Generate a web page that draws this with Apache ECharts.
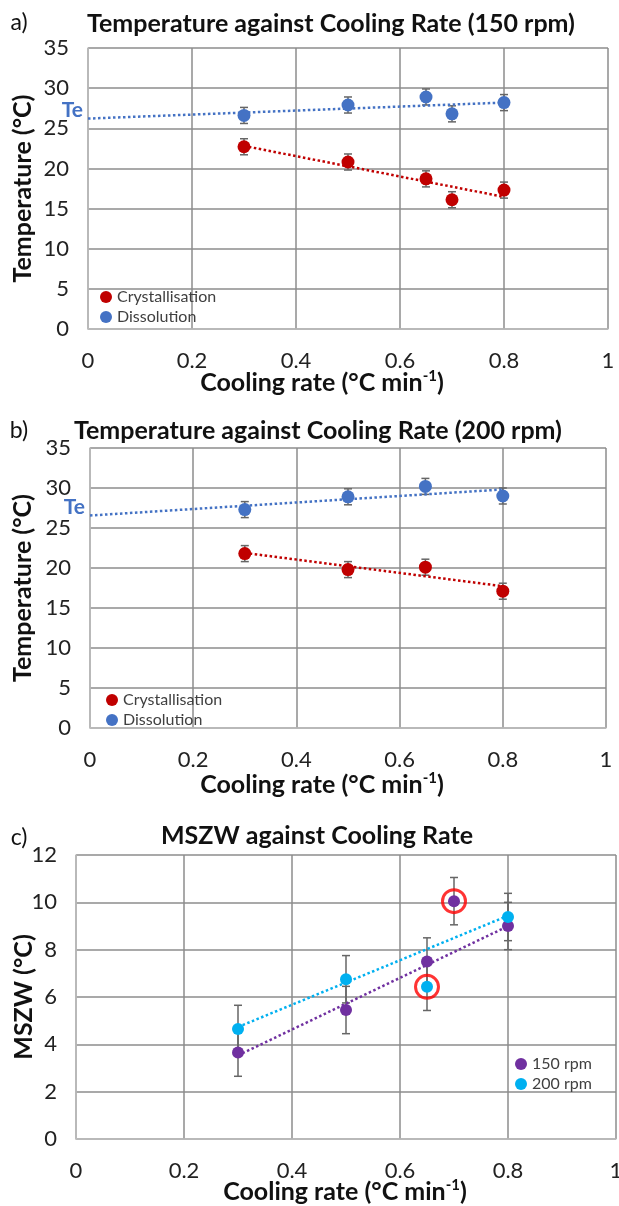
<!DOCTYPE html>
<html>
<head>
<meta charset="utf-8">
<script src="https://cdn.jsdelivr.net/npm/echarts@6/dist/echarts.min.js"></script>
<style>
    html, body { margin: 0; padding: 0; background: #fff; }
    #main { width: 619px; height: 1206px; }
</style>
</head>
<body>
<div id="main"></div>
<script>
    // cooling rates (°C/min)
    var rate150 = [0.3, 0.5, 0.65, 0.7, 0.8];
    var rate200 = [0.3, 0.5, 0.65, 0.8];

    // a) 150 rpm, temperatures (°C)
    var cryst150 = [22.7, 20.8, 18.7, 16.1, 17.3];
    var diss150 = [26.6, 27.9, 28.9, 26.8, 28.2];
    var err150 = [1, 1, 1, 1, 1];

    // b) 200 rpm
    var cryst200 = [21.8, 19.8, 20.1, 17.1];
    var diss200 = [27.3, 28.9, 30.2, 29.0];
    var err200 = [1, 1, 1, 1];

    // c) MSZW (°C)
    var mszw150 = [3.65, 5.45, 7.5, 10.05, 9.0];
    var mszw200 = [4.65, 6.75, 6.43, 9.38];
    var mszwErr150 = [1, 1, 1, 1, 1];
    var mszwErr200 = [1, 1, 1, 1];
    // circled points, left out of the trend line
    var outlier150 = [0.7];
    var outlier200 = [0.65];

    var FONT = 'Lato';
    var BLUE = '#4472C4', RED = '#C00000', PURPLE = '#7030A0', CYAN = '#00B0F0';

    function zip(xs, ys) {
        return xs.map(function (x, i) { return [x, ys[i]]; });
    }
    function zip3(xs, ys, es) {
        return xs.map(function (x, i) { return [x, ys[i], es[i]]; });
    }
    // least squares line, skipping excluded x values
    function fit(xs, ys, skip) {
        skip = skip || [];
        var px = [], py = [];
        xs.forEach(function (x, i) { if (skip.indexOf(x) < 0) { px.push(x); py.push(ys[i]); } });
        var n = px.length, mx = 0, my = 0;
        for (var i = 0; i < n; i++) { mx += px[i]; my += py[i]; }
        mx /= n; my /= n;
        var sxy = 0, sxx = 0;
        for (var j = 0; j < n; j++) { sxy += (px[j] - mx) * (py[j] - my); sxx += (px[j] - mx) * (px[j] - mx); }
        var m = sxy / sxx;
        return { m: m, b: my - m * mx };
    }
    function trendPts(f, x0, x1) {
        return [[x0, f.b + f.m * x0], [x1, f.b + f.m * x1]];
    }

    function errBars(params, api) {
        var x = api.value(0), y = api.value(1), e = api.value(2);
        var top = api.coord([x, y + e]);
        var bot = api.coord([x, y - e]);
        var st = { stroke: '#666666', lineWidth: 1.5 };
        return {
            type: 'group',
            children: [
                { type: 'line', shape: { x1: top[0], y1: top[1], x2: bot[0], y2: bot[1] }, style: st },
                { type: 'line', shape: { x1: top[0] - 4, y1: top[1], x2: top[0] + 4, y2: top[1] }, style: st },
                { type: 'line', shape: { x1: bot[0] - 4, y1: bot[1], x2: bot[0] + 4, y2: bot[1] }, style: st }
            ]
        };
    }

    function xAxisOf(i) {
        return {
            type: 'value', gridIndex: i, min: 0, max: 1, interval: 0.2,
            axisLine: { show: true, lineStyle: { color: '#bfbfbf', width: 1.5 } },
            axisTick: { show: false },
            axisLabel: { fontSize: 22, color: '#222', fontFamily: FONT, margin: 21,
                formatter: function (v) { return String(+v.toFixed(1)); } },
            splitLine: { show: true, lineStyle: { color: '#8c8c8c', width: 1.5 } }
        };
    }
    function yAxisOf(i, max, step, name, gap) {
        return {
            type: 'value', gridIndex: i, min: 0, max: max, interval: step,
            name: name, nameLocation: 'middle', nameGap: gap, nameMoveOverlap: false,
            nameTextStyle: { fontSize: 25, fontWeight: 'bold', color: '#111', fontFamily: FONT },
            axisLine: { show: true, lineStyle: { color: '#bfbfbf', width: 1.5 } },
            axisTick: { show: false },
            axisLabel: { fontSize: 22, color: '#222', fontFamily: FONT, margin: 19 },
            splitLine: { show: true, lineStyle: { color: '#8c8c8c', width: 1.5 } }
        };
    }
    function titleAt(text, cx, cy, size, weight) {
        return {
            text: text, left: cx, top: cy, padding: 0,
            textAlign: 'center', textVerticalAlign: 'middle',
            textStyle: { fontSize: size, fontWeight: weight, color: '#111', fontFamily: FONT }
        };
    }
    function xTitleAt(cx, cy) {
        return {
            text: '{n|Cooling rate (°C min}{s|-1}{n|)}', left: cx, top: cy, padding: 0,
            textAlign: 'center', textVerticalAlign: 'middle',
            textStyle: {
                rich: {
                    n: { fontSize: 25, fontWeight: 'bold', color: '#111', fontFamily: FONT, lineHeight: 28 },
                    s: { fontSize: 15, fontWeight: 'bold', color: '#111', fontFamily: FONT, lineHeight: 17, verticalAlign: 'top' }
                }
            }
        };
    }
    function legendAt(names, left, top) {
        return {
            data: names, orient: 'vertical', left: left, top: top, padding: 0,
            itemWidth: 12, itemHeight: 12, itemGap: 4, icon: 'circle',
            textStyle: { fontSize: 16, color: '#404040', fontFamily: FONT },
            selectedMode: false
        };
    }
    function scatter(name, gi, xs, ys, color, size) {
        return {
            name: name, type: 'scatter', xAxisIndex: gi, yAxisIndex: gi,
            data: zip(xs, ys), symbolSize: size, itemStyle: { color: color, opacity: 1 }, z: 4
        };
    }
    function errSeries(gi, xs, ys, es) {
        return {
            type: 'custom', xAxisIndex: gi, yAxisIndex: gi, renderItem: errBars,
            data: zip3(xs, ys, es), encode: { x: 0, y: 1 }, z: 2, silent: true
        };
    }
    function trend(gi, pts, color, te) {
        var s = {
            type: 'line', xAxisIndex: gi, yAxisIndex: gi, data: pts, showSymbol: false, silent: true,
            lineStyle: { color: color, width: 2.5, type: [2.5, 2.5] }, z: 3
        };
        if (te) {
            s.markPoint = {
                symbolSize: 0, silent: true,
                data: [{ coord: pts[0] }],
                label: { show: true, position: 'left', distance: 5, offset: [0, -8], formatter: 'Te',
                    fontSize: 21, fontWeight: 'bold', color: BLUE, fontFamily: FONT }
            };
        }
        return s;
    }
    function rings(gi, xs, ys, picks) {
        var d = [];
        xs.forEach(function (x, i) { if (picks.indexOf(x) >= 0) d.push([x, ys[i]]); });
        return {
            type: 'scatter', xAxisIndex: gi, yAxisIndex: gi, data: d, symbolSize: 23, silent: true,
            itemStyle: { color: 'rgba(0,0,0,0)', borderColor: '#FF0000', borderWidth: 3 }, z: 5
        };
    }

    var fCa = fit(rate150, cryst150), fDa = fit(rate150, diss150);
    var fCb = fit(rate200, cryst200), fDb = fit(rate200, diss200);
    var fM150 = fit(rate150, mszw150, outlier150), fM200 = fit(rate200, mszw200, outlier200);

    var myChart = echarts.init(document.getElementById('main'));
    var option = {
        animation: false,
        backgroundColor: '#fff',
        title: [
            titleAt('a)', 19, 23, 23, 'normal'),
            titleAt('Temperature against Cooling Rate (150 rpm)', 331, 24, 25, 'bold'),
            xTitleAt(322, 383),
            titleAt('b)', 19, 431, 23, 'normal'),
            titleAt('Temperature against Cooling Rate (200 rpm)', 318, 431, 25, 'bold'),
            xTitleAt(322, 785),
            titleAt('c)', 19, 838, 23, 'normal'),
            titleAt('MSZW against Cooling Rate', 317, 836, 25, 'bold'),
            xTitleAt(345, 1192)
        ],
        legend: [
            legendAt(['Crystallisation', 'Dissolution'], 100, 289),
            legendAt(['Crystallisation', 'Dissolution'], 106, 692),
            legendAt(['150 rpm', '200 rpm'], 515, 1056)
        ],
        grid: [
            { left: 88, right: 11, top: 48, height: 281, outerBoundsMode: 'none' },
            { left: 90, right: 13, top: 448, height: 280, outerBoundsMode: 'none' },
            { left: 76, right: 3, top: 855, height: 284, outerBoundsMode: 'none' }
        ],
        xAxis: [xAxisOf(0), xAxisOf(1), xAxisOf(2)],
        yAxis: [
            yAxisOf(0, 35, 5, 'Temperature (°C)', 53),
            yAxisOf(1, 35, 5, 'Temperature (°C)', 55),
            yAxisOf(2, 12, 2, 'MSZW (°C)', 40)
        ],
        series: [
            errSeries(0, rate150, cryst150, err150),
            errSeries(0, rate150, diss150, err150),
            trend(0, trendPts(fCa, rate150[0], rate150[rate150.length - 1]), RED, false),
            trend(0, trendPts(fDa, 0, rate150[rate150.length - 1]), BLUE, true),
            scatter('Crystallisation', 0, rate150, cryst150, RED, 13),
            scatter('Dissolution', 0, rate150, diss150, BLUE, 13),

            errSeries(1, rate200, cryst200, err200),
            errSeries(1, rate200, diss200, err200),
            trend(1, trendPts(fCb, rate200[0], rate200[rate200.length - 1]), RED, false),
            trend(1, trendPts(fDb, 0, rate200[rate200.length - 1]), BLUE, true),
            scatter('Crystallisation', 1, rate200, cryst200, RED, 13),
            scatter('Dissolution', 1, rate200, diss200, BLUE, 13),

            errSeries(2, rate150, mszw150, mszwErr150),
            errSeries(2, rate200, mszw200, mszwErr200),
            trend(2, trendPts(fM150, rate150[0], rate150[rate150.length - 1]), PURPLE, false),
            trend(2, trendPts(fM200, rate200[0], rate200[rate200.length - 1]), CYAN, false),
            scatter('150 rpm', 2, rate150, mszw150, PURPLE, 12),
            scatter('200 rpm', 2, rate200, mszw200, CYAN, 12),
            rings(2, rate150, mszw150, outlier150),
            rings(2, rate200, mszw200, outlier200)
        ]
    };
    myChart.setOption(option);
</script>
</body>
</html>
